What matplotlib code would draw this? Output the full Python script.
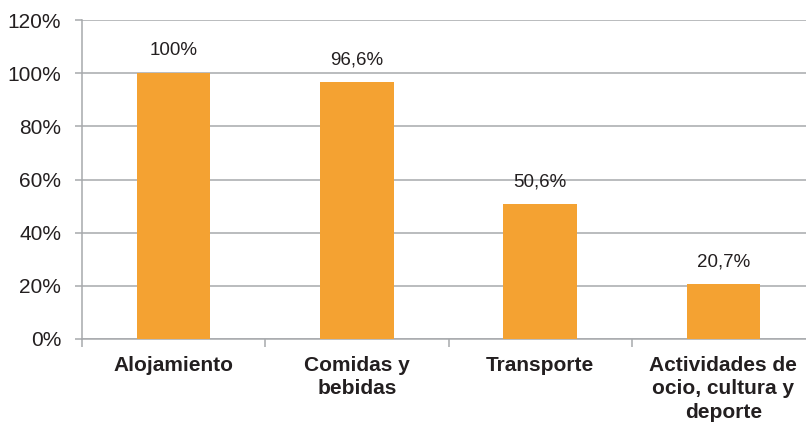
import matplotlib
matplotlib.use("Agg")
import matplotlib.pyplot as plt
import numpy as np
from matplotlib.ticker import FixedLocator, NullFormatter

categories = ["Alojamiento", "Comidas y\nbebidas", "Transporte", "Actividades de\nocio, cultura y\ndeporte"]
values = [100, 96.6, 50.6, 20.7]
value_labels = ["100%", "96,6%", "50,6%", "20,7%"]
yticks = [0, 20, 40, 60, 80, 100, 120]
ytick_labels = ["0%", "20%", "40%", "60%", "80%", "100%", "120%"]

plt.rcParams['font.family'] = ['Liberation Sans', 'DejaVu Sans']
grey = "#A7A9AC"
text_c = "#231F20"
bar_c = "#F4A232"

fig = plt.figure(figsize=(8.06, 4.28), dpi=100)
ax = fig.add_axes([82/806, 1-339/428, (815-82)/806, (339-20)/428])

x = np.arange(len(categories))
ax.bar(x, values, width=0.4, color=bar_c, zorder=3)
for xi, v, lab in zip(x, values, value_labels):
    ax.annotate(lab, (xi, v), xytext=(0, 10), textcoords="offset points",
                ha="center", va="bottom", fontsize=13.5, color=text_c)

ax.set_xlim(-0.5, len(categories) - 0.5)
ax.set_ylim(0, 120)
ax.set_yticks(yticks)
ax.set_yticklabels(ytick_labels, fontsize=15, color=text_c)
ax.yaxis.grid(True, color=grey, linewidth=1.1, zorder=0)
ax.set_axisbelow(True)

ax.set_xticks(x)
ax.set_xticklabels(categories, fontsize=15, fontweight="bold", color=text_c, linespacing=1.3)
ax.tick_params(axis="x", which="major", length=0, pad=12)
ax.xaxis.set_minor_locator(FixedLocator(np.arange(-0.5, len(categories), 1.0)))
ax.xaxis.set_minor_formatter(NullFormatter())
ax.tick_params(axis="x", which="minor", length=6, width=1.1, color=grey)
ax.tick_params(axis="y", length=5, width=1.1, color=grey, pad=10)

for s in ["top", "right"]:
    ax.spines[s].set_visible(False)
for s in ["left", "bottom"]:
    ax.spines[s].set_color(grey)
    ax.spines[s].set_linewidth(1.1)

fig.savefig("out.png", dpi=100)
